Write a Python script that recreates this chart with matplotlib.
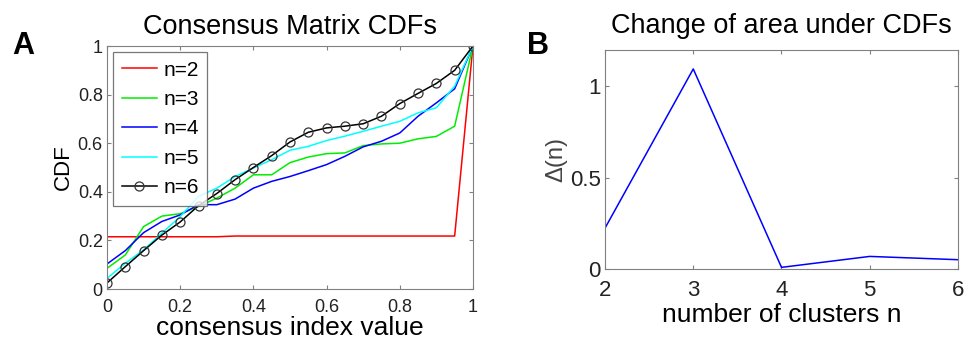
import numpy as np
import matplotlib.pyplot as plt

plt.rcParams['font.family'] = ['Liberation Sans', 'DejaVu Sans']

# consensus index values (grid used for the CDFs)
x_vals = [0.0, 0.05, 0.1, 0.15, 0.2, 0.25, 0.3, 0.35, 0.4, 0.45, 0.5,
          0.55, 0.6, 0.65, 0.7, 0.75, 0.8, 0.85, 0.9, 0.95, 1.0]

cdf_n2 = [0.215, 0.215, 0.215, 0.215, 0.215, 0.215, 0.215, 0.218, 0.218, 0.218, 0.218,
          0.218, 0.218, 0.218, 0.218, 0.218, 0.218, 0.218, 0.218, 0.218, 1.0]
cdf_n3 = [0.085, 0.14, 0.257, 0.30, 0.31, 0.34, 0.374, 0.415, 0.47, 0.47, 0.52,
          0.543, 0.557, 0.56, 0.59, 0.597, 0.60, 0.618, 0.628, 0.67, 1.0]
cdf_n4 = [0.103, 0.158, 0.232, 0.278, 0.305, 0.347, 0.347, 0.37, 0.415, 0.443, 0.463,
          0.487, 0.512, 0.546, 0.585, 0.608, 0.642, 0.711, 0.766, 0.824, 1.0]
cdf_n5 = [0.044, 0.106, 0.161, 0.23, 0.298, 0.381, 0.415, 0.463, 0.498, 0.532, 0.571,
          0.587, 0.611, 0.629, 0.649, 0.67, 0.69, 0.725, 0.746, 0.835, 1.0]
cdf_n6 = [0.025, 0.092, 0.158, 0.222, 0.276, 0.343, 0.393, 0.45, 0.5, 0.549, 0.605,
          0.645, 0.663, 0.67, 0.68, 0.711, 0.763, 0.805, 0.846, 0.9, 1.0]

# change of area under the CDFs
clusters = [2, 3, 4, 5, 6]
delta = [0.224, 1.096, 0.009, 0.069, 0.051]

spine_col = '#808080'

fig = plt.figure(figsize=(9.66, 3.4), dpi=100)

ax1 = fig.add_axes([0.1108, 0.15, 0.3788, 0.7147])
ax1.plot(x_vals, cdf_n2, color='red', lw=1.1, label='n=2')
ax1.plot(x_vals, cdf_n3, color='#00ee00', lw=1.1, label='n=3')
ax1.plot(x_vals, cdf_n4, color='blue', lw=1.1, label='n=4')
ax1.plot(x_vals, cdf_n5, color='cyan', lw=1.1, label='n=5')
ax1.plot(x_vals, cdf_n6, color='black', lw=1.1, marker='o', ms=6.5,
         mfc='none', mec='#333333', mew=0.9, label='n=6')
ax1.set_xlim(0, 1)
ax1.set_ylim(0, 1)
ax1.set_xticks([0, 0.2, 0.4, 0.6, 0.8, 1])
ax1.set_xticklabels(['0', '0.2', '0.4', '0.6', '0.8', '1'])
ax1.set_yticks([0, 0.2, 0.4, 0.6, 0.8, 1])
ax1.set_yticklabels(['0', '0.2', '0.4', '0.6', '0.8', '1'])
ax1.tick_params(direction='in', labelsize=13, top=True, right=True, length=3,
                color=spine_col, labelcolor='#222222', pad=3)
ax1.tick_params(axis='x', pad=7)
for s in ax1.spines.values():
    s.set_color(spine_col)
ax1.set_xlabel('consensus index value', fontsize=19, labelpad=0)
ax1.set_ylabel('CDF', fontsize=16, labelpad=3)
ax1.set_title('Consensus Matrix CDFs', fontsize=19.5, pad=9)
leg = ax1.legend(loc='upper left', fontsize=15, frameon=True, fancybox=False,
                 edgecolor='#555555', handlelength=1.7, borderaxespad=0.3,
                 labelspacing=0.5, handletextpad=0.3, borderpad=0.4)
leg.get_frame().set_linewidth(0.9)

ax2 = fig.add_axes([0.6263, 0.2088, 0.3654, 0.6442])
ax2.plot(clusters, delta, color='blue', lw=1.1)
ax2.set_xlim(2, 6)
ax2.set_ylim(0, 1.2)
ax2.set_xticks(clusters)
ax2.set_yticks([0, 0.5, 1])
ax2.set_yticklabels(['0', '0.5', '1'])
ax2.tick_params(direction='in', labelsize=16, top=True, right=True, length=3,
                color=spine_col, labelcolor='#222222', pad=3)
ax2.tick_params(axis='x', pad=8)
for s in ax2.spines.values():
    s.set_color(spine_col)
ax2.set_xlabel('number of clusters n', fontsize=19, labelpad=1)
ax2.set_ylabel('Δ(n)', fontsize=17, labelpad=2, color='#444444')
ax2.set_title('Change of area under CDFs', fontsize=19.5, pad=12)

fig.text(0.013, 0.84, 'A', fontsize=22, fontweight='bold')
fig.text(0.546, 0.84, 'B', fontsize=22, fontweight='bold')

fig.savefig('out.png', dpi=100)
